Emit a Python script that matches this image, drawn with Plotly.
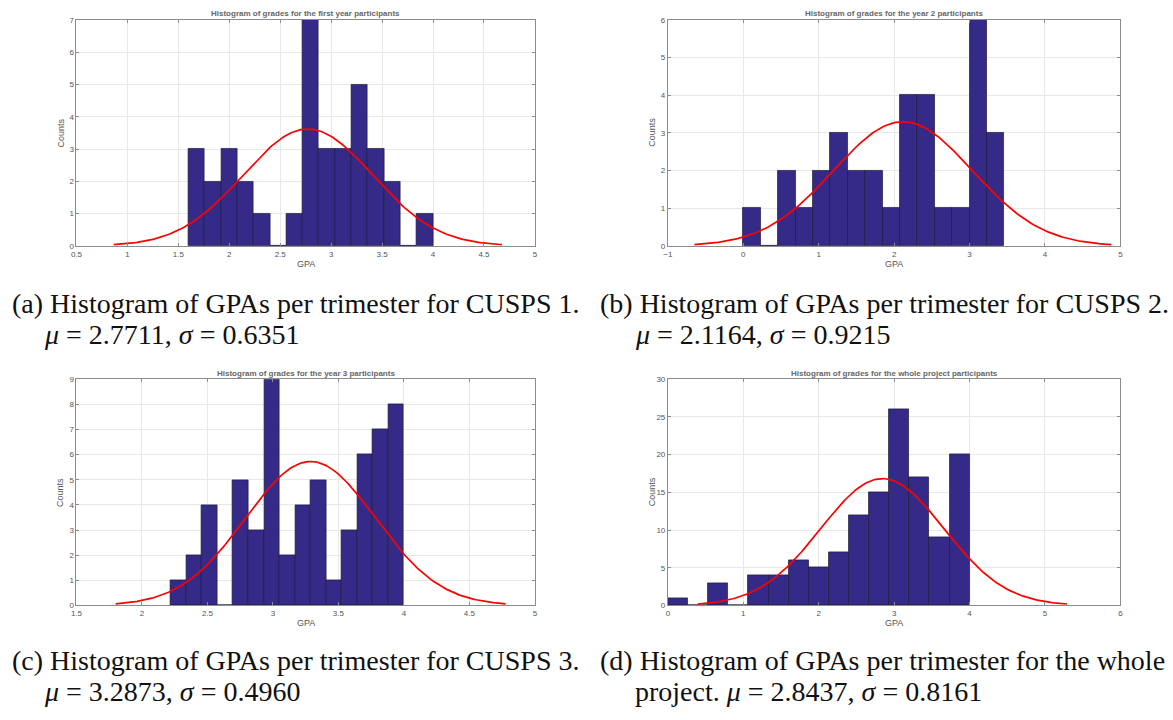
import numpy as np
import plotly.graph_objects as go

# ---------------- data ----------------
titles = [
    "Histogram of grades for the first year participants",
    "Histogram of grades for the year 2 participants",
    "Histogram of grades for the year 3 participants",
    "Histogram of grades for the whole project participants",
]
counts_a = [3, 2, 3, 2, 1, 0, 1, 7, 3, 3, 5, 3, 2, 0, 1]
counts_b = [1, 0, 2, 1, 2, 3, 2, 2, 1, 4, 4, 1, 1, 6, 3]
counts_c = [1, 2, 4, 0, 5, 3, 9, 2, 4, 5, 1, 3, 6, 7, 8]
counts_d = [1, 0, 3, 0, 4, 4, 6, 5, 7, 12, 15, 26, 17, 9, 20]
bin_start = [1.60, 0.00, 2.22, 0.00]
bin_end = [4.00, 3.46, 4.00, 4.00]
mu_vals = [2.7711, 2.1164, 3.2873, 2.8437]
sigma_vals = [0.6351, 0.9215, 0.4960, 0.8161]
x_ranges = [[0.5, 5], [-1, 5], [1.5, 5], [0, 6]]
x_dticks = [0.5, 1, 0.5, 1]
y_ranges = [[0, 7], [0, 6], [0, 9], [0, 30]]
y_dticks = [1, 1, 1, 5]
captions_l1 = [
    "(a) Histogram of GPAs per trimester for CUSPS 1.",
    "(b) Histogram of GPAs per trimester for CUSPS 2.",
    "(c) Histogram of GPAs per trimester for CUSPS 3.",
    "(d) Histogram of GPAs per trimester for the whole",
]
captions_l2 = [
    "<i>μ</i> = 2.7711, <i>σ</i> = 0.6351",
    "<i>μ</i> = 2.1164, <i>σ</i> = 0.9215",
    "<i>μ</i> = 3.2873, <i>σ</i> = 0.4960",
    "project. <i>μ</i> = 2.8437, <i>σ</i> = 0.8161",
]
all_counts = [counts_a, counts_b, counts_c, counts_d]

# ---------------- layout geometry (pixels) ----------------
W, H = 1173, 720
boxes = [  # left, right, top, bottom
    (71, 533, 16, 245),
    (667, 1123, 16, 245),
    (71, 533, 380, 609),
    (667, 1123, 380, 609),
]
cap_x = [5, 598, 5, 598]
cap_x2 = [37, 633, 37, 633]
cap_y1 = [303, 303, 665, 665]
cap_y2 = [335, 335, 696, 696]

BAR = "#352a87"
AX = "#8c8c8c"
TXT = "#555555"
SANS = "Liberation Sans, Arial, sans-serif"
SERIF = "Liberation Serif, Times New Roman, serif"
CAP_SIZE = 28

fig = go.Figure()
annotations = []


def px(x):
    return x / W


def py(y):
    return 1 - y / H


for i in range(4):
    cnt = np.array(all_counts[i], dtype=float)
    nb = len(cnt)
    bw = (bin_end[i] - bin_start[i]) / nb
    centers = bin_start[i] + bw * (np.arange(nb) + 0.5)
    xa = "x" if i == 0 else f"x{i+1}"
    ya = "y" if i == 0 else f"y{i+1}"
    fig.add_trace(go.Bar(
        x=centers, y=cnt, width=bw, xaxis=xa, yaxis=ya,
        marker=dict(color=BAR, line=dict(color="#1c1c3a", width=0.7)),
        showlegend=False, hoverinfo="x+y",
    ))
    # fitted normal curve (histfit style), scaled by N * bin width
    mu, sg = mu_vals[i], sigma_vals[i]
    xs = np.linspace(mu - 3 * sg, mu + 3 * sg, 200)
    ys = cnt.sum() * bw / (sg * np.sqrt(2 * np.pi)) * np.exp(-0.5 * ((xs - mu) / sg) ** 2)
    fig.add_trace(go.Scatter(
        x=xs, y=ys, mode="lines", xaxis=xa, yaxis=ya,
        line=dict(color="#ff0000", width=1.7), showlegend=False, hoverinfo="skip",
    ))

    l, r, t, b = boxes[i]
    sfx = "" if i == 0 else str(i + 1)
    fig.update_layout(**{
        f"xaxis{sfx}": dict(
            domain=[px(l), px(r)], anchor=ya, range=x_ranges[i], dtick=x_dticks[i],
            tick0=x_ranges[i][0], showgrid=True, gridcolor="#e8e8e8", gridwidth=1,
            showline=True, linecolor=AX, linewidth=1, mirror="ticks",
            ticks="inside", ticklen=3, tickcolor=AX, zeroline=False,
            tickfont=dict(family=SANS, size=8, color=TXT),
        ),
        f"yaxis{sfx}": dict(
            domain=[py(b), py(t)], anchor=xa, range=y_ranges[i], dtick=y_dticks[i],
            showgrid=True, gridcolor="#e8e8e8", gridwidth=1,
            showline=True, linecolor=AX, linewidth=1, mirror="ticks",
            ticks="inside", ticklen=3, tickcolor=AX, zeroline=False,
            tickfont=dict(family=SANS, size=8, color=TXT),
        ),
    })
    cx = (l + r) / 2
    annotations.append(dict(
        text=f"<b>{titles[i]}</b>", x=px(cx), y=py(t - 6), xref="paper", yref="paper",
        showarrow=False, xanchor="center", yanchor="middle",
        font=dict(family=SANS, size=8, color="#666666"),
    ))
    annotations.append(dict(
        text="GPA", x=px(cx), y=py(b + 18), xref="paper", yref="paper",
        showarrow=False, xanchor="center", yanchor="middle",
        font=dict(family=SANS, size=9, color=TXT),
    ))
    annotations.append(dict(
        text="Counts", x=px(l - 16), y=py((t + b) / 2), xref="paper", yref="paper",
        showarrow=False, xanchor="center", yanchor="middle", textangle=-90,
        font=dict(family=SANS, size=9, color=TXT),
    ))
    annotations.append(dict(
        text=captions_l1[i], x=px(cap_x[i]), y=py(cap_y1[i]), xref="paper", yref="paper",
        showarrow=False, xanchor="left", yanchor="middle", borderpad=0,
        font=dict(family=SERIF, size=CAP_SIZE, color="#111111"),
    ))
    annotations.append(dict(
        text=captions_l2[i], x=px(cap_x2[i]), y=py(cap_y2[i]), xref="paper", yref="paper",
        showarrow=False, xanchor="left", yanchor="middle", borderpad=0,
        font=dict(family=SERIF, size=CAP_SIZE, color="#111111"),
    ))

fig.update_layout(
    width=W, height=H, margin=dict(l=0, r=0, t=0, b=0),
    paper_bgcolor="white", plot_bgcolor="white",
    bargap=0, annotations=annotations,
)

fig.write_html(
    "out.html",
    config={"displayModeBar": False},
    post_script="document.body.style.margin='0';document.body.style.overflow='hidden';",
)
